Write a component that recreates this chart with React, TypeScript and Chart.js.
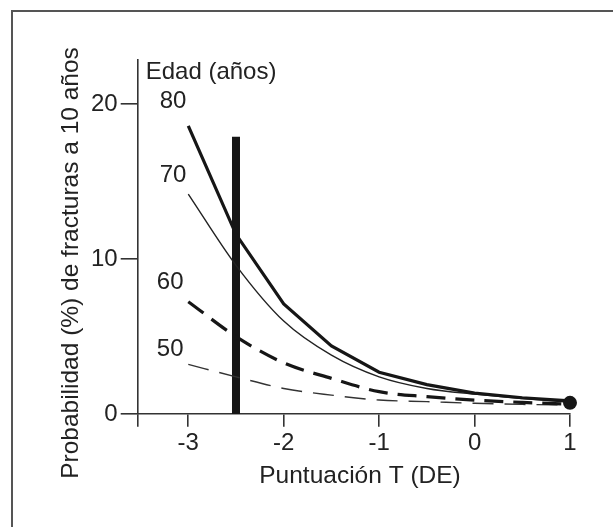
import React, { useEffect, useRef } from 'react';
import { Chart, registerables } from 'chart.js';

Chart.register(...registerables);

// T-score positions (SD)
const tScores = [-3, -2.5, -2, -1.5, -1, -0.5, 0, 0.5, 1];
// 10-year fracture probability (%) by age
const age80 = [18.6, 11.6, 7.1, 4.4, 2.7, 1.9, 1.35, 1.05, 0.85];
const age70 = [14.2, 9.6, 6.0, 3.8, 2.4, 1.65, 1.28, 1.0, 0.76];
const age60 = [7.25, 5.0, 3.3, 2.3, 1.44, 1.12, 0.9, 0.75, 0.64];
const age50 = [3.2, 2.4, 1.65, 1.22, 0.9, 0.8, 0.69, 0.62, 0.58];

const ageLabels = ['80', '70', '60', '50'];
const labelT = [-3.16, -3.16, -3.19, -3.19];
const labelY = [20.2, 15.4, 8.5, 4.2];

const thresholdT = -2.5;
const thresholdTop = 17.9;
const endDotT = 1;
const endDotY = 0.72;

const xTicks = [-3.53, -3, -2, -1, 0, 1];
const yTicks = [0, 10, 20];
const xMin = -3.53;
const xMax = 1;
const yMin = 0;
const yMax = 22.9;

const FONT = 'Liberation Sans, Arial, Helvetica, sans-serif';
const INK = '#161616';

export default function App() {
  const ref = useRef<HTMLCanvasElement>(null);

  useEffect(() => {
    const canvas = ref.current;
    if (!canvas) return;
    const mk = (vals: number[]) => tScores.map((x, i) => ({ x, y: vals[i] }));

    const annot = {
      id: 'annot',
      beforeDraw(chart: any) {
        const c = chart.ctx;
        c.save();
        c.fillStyle = '#fff';
        c.fillRect(0, 0, chart.width, chart.height);
        c.fillStyle = '#555';
        c.fillRect(11, 10, chart.width - 11, 2);
        c.fillRect(11, 10, 2, chart.height - 10);
        c.restore();
      },
      afterDraw(chart: any) {
        const c = chart.ctx;
        const xs = chart.scales.x;
        const ys = chart.scales.y;
        const area = chart.chartArea;
        c.save();
        c.fillStyle = '#222';
        c.font = `24px ${FONT}`;
        c.textAlign = 'left';
        c.textBaseline = 'alphabetic';
        c.fillText('Edad (años)', area.left + 8, area.top + 19.6);
        c.textAlign = 'center';
        c.textBaseline = 'middle';
        ageLabels.forEach((l, i) => {
          c.fillText(l, xs.getPixelForValue(labelT[i]), ys.getPixelForValue(labelY[i]));
        });
        c.font = `24.5px ${FONT}`;
        c.textBaseline = 'alphabetic';
        c.fillText('Puntuación T (DE)', 360, 482.7);
        c.translate(77.5, 263);
        c.rotate(-Math.PI / 2);
        c.fillText('Probabilidad (%) de fracturas a 10 años', 0, 0);
        c.restore();
      },
    };

    const chart = new Chart(canvas, {
      type: 'line',
      data: {
        datasets: [
          {
            data: [{ x: endDotT, y: endDotY }],
            showLine: false,
            pointRadius: 7,
            pointBackgroundColor: INK,
            pointBorderWidth: 0,
            clip: false as any,
          },
          {
            data: mk(age80),
            borderColor: INK,
            borderWidth: 3.2,
            tension: 0,
            pointRadius: 0,
            clip: false as any,
          },
          {
            data: mk(age70),
            borderColor: '#222',
            borderWidth: 1.4,
            cubicInterpolationMode: 'monotone',
            pointRadius: 0,
            clip: false as any,
          },
          {
            data: mk(age60),
            borderColor: INK,
            borderWidth: 3.2,
            borderDash: [19, 10],
            cubicInterpolationMode: 'monotone',
            pointRadius: 0,
            clip: false as any,
          },
          {
            data: mk(age50),
            borderColor: '#333',
            borderWidth: 1.4,
            borderDash: [21, 11],
            cubicInterpolationMode: 'monotone',
            pointRadius: 0,
            clip: false as any,
          },
          {
            data: [
              { x: thresholdT, y: 0 },
              { x: thresholdT, y: thresholdTop },
            ],
            borderColor: INK,
            borderWidth: 8,
            borderCapStyle: 'butt',
            pointRadius: 0,
            clip: false as any,
          },
        ],
      },
      options: {
        responsive: false,
        animation: false,
        events: [],
        layout: { padding: { left: 0, top: 59.3, right: 43, bottom: 0 } },
        plugins: {
          legend: { display: false },
          tooltip: { enabled: false },
          title: { display: false },
        },
        scales: {
          x: {
            type: 'linear',
            min: xMin,
            max: xMax,
            afterFit(scale: any) {
              scale.height = 113;
            },
            afterBuildTicks(scale: any) {
              scale.ticks = xTicks.map((v) => ({ value: v }));
            },
            border: { display: true, color: '#333', width: 1.6 },
            grid: {
              display: true,
              drawOnChartArea: false,
              drawTicks: true,
              tickLength: 12.7,
              tickColor: '#333',
              lineWidth: 1.6,
            },
            ticks: {
              autoSkip: false,
              maxRotation: 0,
              padding: 2,
              color: '#222',
              font: { family: FONT, size: 24 },
              callback: (v: any) => (v === xMin ? '' : String(v)),
            },
          },
          y: {
            type: 'linear',
            min: yMin,
            max: yMax,
            afterFit(scale: any) {
              scale.width = 137.7;
            },
            afterBuildTicks(scale: any) {
              scale.ticks = yTicks.map((v) => ({ value: v }));
            },
            border: { display: true, color: '#333', width: 1.6 },
            grid: {
              display: true,
              drawOnChartArea: false,
              drawTicks: true,
              tickLength: 17,
              tickColor: '#333',
              lineWidth: 1.6,
            },
            ticks: {
              autoSkip: false,
              padding: 3,
              color: '#222',
              font: { family: FONT, size: 24 },
              callback: (v: any) => String(v),
            },
          },
        },
      } as any,
      plugins: [annot as any],
    });
    return () => chart.destroy();
  }, []);

  return (
    <div style={{ position: 'absolute', left: 0, top: 0, width: 613, height: 527, background: '#fff' }}>
      <canvas ref={ref} width={613} height={527} style={{ display: 'block' }} />
    </div>
  );
}
